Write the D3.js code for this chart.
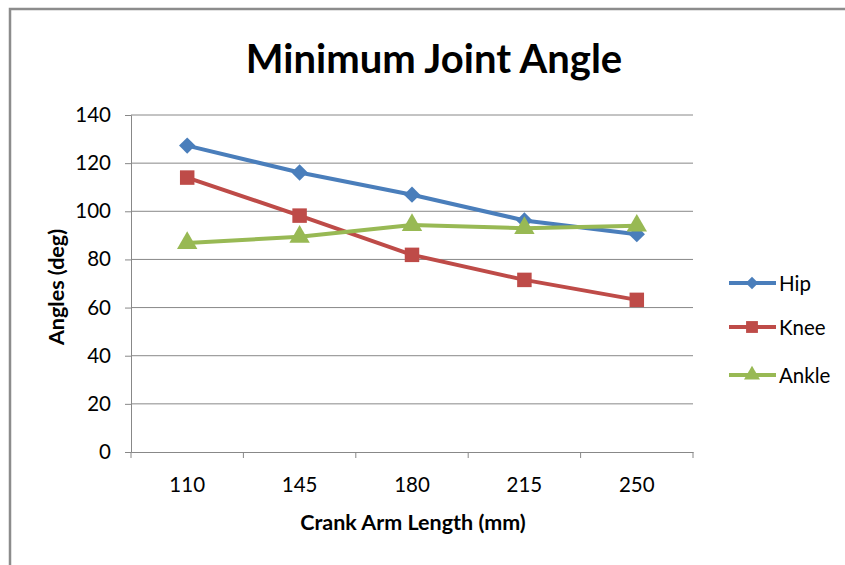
<!DOCTYPE html>
<html>
<head>
<meta charset="utf-8">
<script src="https://cdn.jsdelivr.net/npm/d3@7"></script>
<style>
  html, body { margin: 0; padding: 0; background: #fff; }
  svg { display: block; }
  text { font-family: Lato, "Open Sans", sans-serif; fill: #000; }
</style>
</head>
<body>
<svg id="chart" width="845" height="565"></svg>
<script>
const categories = ["110", "145", "180", "215", "250"];
const hip = [127.3, 116.1, 106.9, 96.2, 90.5];
const knee = [114.0, 98.2, 81.9, 71.5, 63.2];
const ankle = [86.8, 89.4, 94.3, 93.0, 94.0];
const yTicks = [0, 20, 40, 60, 80, 100, 120, 140];
const seriesNames = ["Hip", "Knee", "Ankle"];
const seriesColors = ["#4A7EBB", "#BE4B48", "#98B954"];
const seriesShapes = ["diamond", "square", "triangle"];
const seriesValues = [hip, knee, ankle];

const svg = d3.select("#chart");

// outer frame
svg.append("rect")
  .attr("x", 10).attr("y", 9)
  .attr("width", 900).attr("height", 600)
  .attr("fill", "#fff").attr("stroke", "#8c8c8c").attr("stroke-width", 2.5);

const plotLeft = 131, plotRight = 693, plotTop = 115, plotBottom = 452;

const x = d3.scaleBand().domain(categories).range([plotLeft, plotRight]);
const y = d3.scaleLinear().domain([0, 140]).range([plotBottom, plotTop]);

// gridlines
svg.append("g").selectAll("line").data(yTicks.filter(d => d > 0)).join("line")
  .attr("x1", plotLeft).attr("x2", plotRight)
  .attr("y1", d => y(d)).attr("y2", d => y(d))
  .attr("stroke", "#888").attr("stroke-width", 1);

// Y axis
const yAxis = svg.append("g").attr("transform", `translate(${plotLeft},0)`)
  .call(d3.axisLeft(y).tickValues(yTicks).tickSize(6).tickPadding(14).tickFormat(d3.format("d")));
yAxis.select(".domain").attr("stroke", "#888");
yAxis.selectAll(".tick line").attr("stroke", "#888");
yAxis.selectAll(".tick text").attr("font-size", 20.5).attr("font-family", "Lato, sans-serif").attr("fill", "#000");

// X axis
const xAxis = svg.append("g").attr("transform", `translate(0,${plotBottom})`)
  .call(d3.axisBottom(x).tickSize(0).tickPadding(25));
xAxis.select(".domain").attr("stroke", "#888");
xAxis.selectAll(".tick text").attr("font-size", 20.5).attr("font-family", "Lato, sans-serif").attr("fill", "#000");
// boundary ticks
const bounds = categories.map(c => x(c)).concat([plotRight]);
xAxis.append("g").selectAll("line").data(bounds).join("line")
  .attr("x1", d => d).attr("x2", d => d).attr("y1", 0).attr("y2", 6)
  .attr("stroke", "#888");

// title
svg.append("text").attr("x", 434).attr("y", 73).attr("text-anchor", "middle")
  .attr("font-size", 40).attr("font-weight", "bold").text("Minimum Joint Angle");

// axis titles
svg.append("text").attr("x", 413).attr("y", 530).attr("text-anchor", "middle")
  .attr("font-size", 21.5).attr("font-weight", "bold").text("Crank Arm Length (mm)");
svg.append("text").attr("transform", "translate(64,287) rotate(-90)").attr("text-anchor", "middle")
  .attr("font-size", 21.5).attr("font-weight", "bold").text("Angles (deg)");

function marker(shape) {
  if (shape === "diamond") return d3.symbol().type(d3.symbolDiamond2).size(170)();
  if (shape === "square") return d3.symbol().type(d3.symbolSquare).size(210)();
  return d3.symbol().type(d3.symbolTriangle).size(180)();
}

const line = d3.line().x((d, i) => x(categories[i]) + x.bandwidth() / 2).y(d => y(d));

seriesValues.forEach((vals, si) => {
  const g = svg.append("g");
  g.append("path").attr("d", line(vals)).attr("fill", "none")
    .attr("stroke", seriesColors[si]).attr("stroke-width", 4).attr("stroke-linejoin", "round");
  g.selectAll("path.m").data(vals).join("path").attr("class", "m")
    .attr("d", marker(seriesShapes[si]))
    .attr("transform", (d, i) => `translate(${x(categories[i]) + x.bandwidth() / 2},${y(d)})`)
    .attr("fill", seriesColors[si]);
});

// legend
const legY = [283, 327, 375];
seriesNames.forEach((name, si) => {
  const g = svg.append("g").attr("transform", `translate(0,${legY[si]})`);
  g.append("line").attr("x1", 729).attr("x2", 776).attr("y1", 0).attr("y2", 0)
    .attr("stroke", seriesColors[si]).attr("stroke-width", 4);
  const sz = seriesShapes[si] === "diamond" ? 100 : seriesShapes[si] === "square" ? 140 : 110;
  const sym = seriesShapes[si] === "diamond" ? d3.symbolDiamond2 : seriesShapes[si] === "square" ? d3.symbolSquare : d3.symbolTriangle;
  g.append("path").attr("d", d3.symbol().type(sym).size(sz)()).attr("transform", "translate(752,0)")
    .attr("fill", seriesColors[si]);
  g.append("text").attr("x", 779).attr("y", 7.5).attr("font-size", 20.5).text(name);
});
</script>
</body>
</html>
